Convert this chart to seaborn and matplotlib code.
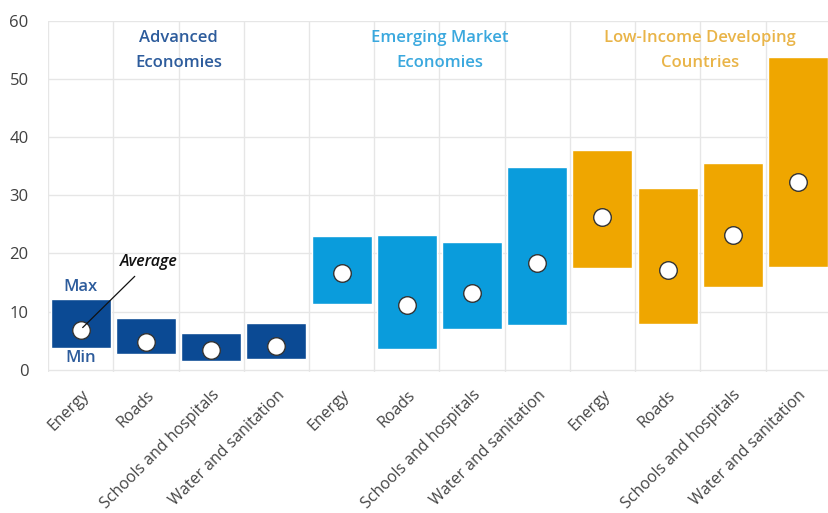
import matplotlib.pyplot as plt
import numpy as np
import pandas as pd
import seaborn as sns

SECTORS = ["Energy", "Roads", "Schools and hospitals", "Water and sanitation"]
GROUPS = ["Advanced\nEconomies", "Emerging Market\nEconomies", "Low-Income Developing\nCountries"]

ae_min = [3.8, 2.7, 1.4, 1.9]
ae_max = [12.2, 8.9, 6.3, 8.0]
ae_avg = [6.9, 4.8, 3.4, 4.0]

em_min = [11.3, 3.6, 7.0, 7.6]
em_max = [23.0, 23.2, 22.0, 34.9]
em_avg = [16.6, 11.2, 13.2, 18.3]

lidc_min = [17.5, 7.9, 14.3, 17.7]
lidc_max = [37.8, 31.3, 35.6, 53.8]
lidc_avg = [26.3, 17.2, 23.2, 32.3]

COLORS = ["#0b4a94", "#0a9cdc", "#efa600"]
TEXT_COLORS = ["#2d5c9c", "#3aa8de", "#e9b448"]

df = pd.DataFrame({
    "group": np.repeat(GROUPS, 4),
    "sector": SECTORS * 3,
    "low": ae_min + em_min + lidc_min,
    "high": ae_max + em_max + lidc_max,
    "avg": ae_avg + em_avg + lidc_avg,
})
df["pos"] = np.arange(len(df))

sns.set_theme(style="white")
plt.rcParams["font.family"] = ["Open Sans", "DejaVu Sans"]

fig = plt.figure(figsize=(8.29, 5.13), dpi=100)
ax = fig.add_axes([0.058, 0.275, 0.952, 0.684])

palette = dict(zip(GROUPS, COLORS))
ax.bar(df["pos"], df["high"] - df["low"], bottom=df["low"], width=0.92,
       color=[palette[g] for g in df["group"]], zorder=2)
sns.scatterplot(data=df, x="pos", y="avg", color="white", edgecolor="#333333",
                linewidth=1.0, s=160, zorder=3, legend=False, ax=ax)

ax.set_xlim(-0.5, 11.6)
ax.set_ylim(-0.4, 60)
ax.set_yticks(range(0, 61, 10))
ax.set_xticks(df["pos"])
ax.set_xticklabels(df["sector"], rotation=45, ha="right", rotation_mode="anchor",
                   fontsize=11.5, color="#454545")
ax.set_xticks(np.arange(-0.5, 12, 1), minor=True)
ax.tick_params(axis="y", labelsize=12, colors="#404040", pad=8)
ax.tick_params(axis="x", which="major", pad=11, length=0)
ax.tick_params(axis="x", which="minor", length=0)
ax.grid(axis="y", color="#e6e6e6", linewidth=1, zorder=0)
ax.grid(axis="x", which="minor", color="#e6e6e6", linewidth=1, zorder=0)
ax.set_xlabel("")
ax.set_ylabel("")
for s in ax.spines.values():
    s.set_visible(False)

for i, (g, c) in enumerate(zip(GROUPS, TEXT_COLORS)):
    ax.text(4 * i + 1.5, 54.9, g, ha="center", va="center", color=c,
            fontsize=12, fontweight="semibold", linespacing=1.75)

ax.text(0, 14.3, "Max", ha="center", va="center", color="#2d5c9c", fontsize=12, fontweight="semibold")
ax.text(0, 2.0, "Min", ha="center", va="center", color="#2d5c9c", fontsize=12, fontweight="semibold")
ax.annotate("Average", xy=(0, ae_avg[0]), xytext=(1.05, 18.5), ha="center", va="center",
            fontsize=11.5, fontstyle="italic", fontweight="semibold", color="#111111",
            arrowprops=dict(arrowstyle="-", color="#111111", lw=0.9, shrinkA=3, shrinkB=2))

fig.savefig("out.png", dpi=100)
